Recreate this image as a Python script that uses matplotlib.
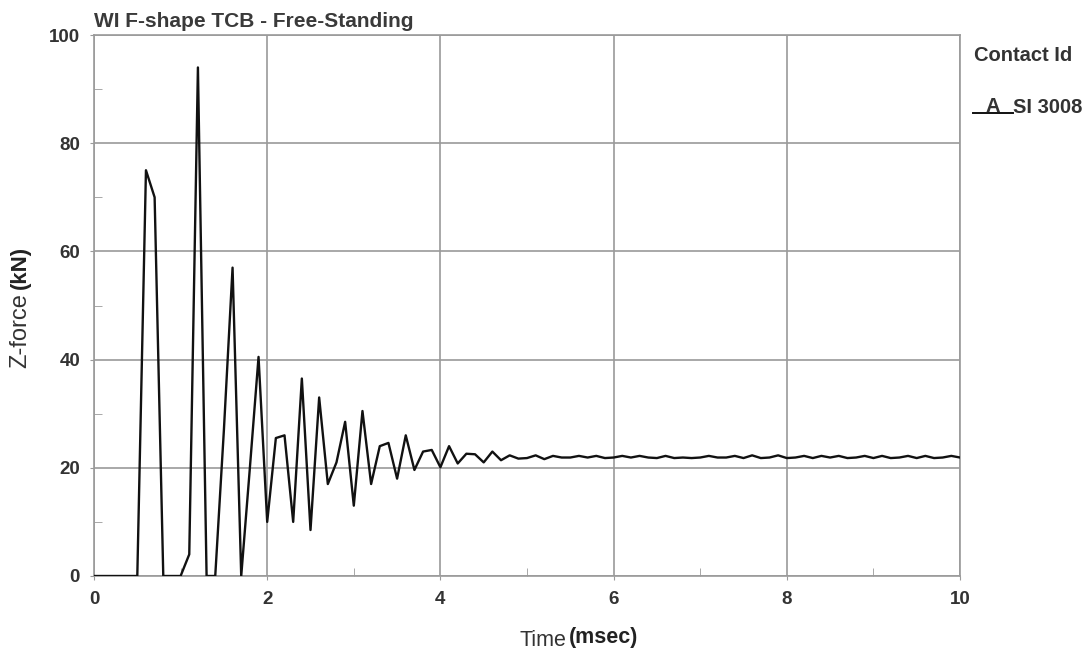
import matplotlib.pyplot as plt
from matplotlib.lines import Line2D

plt.rcParams['font.family'] = ['Liberation Sans', 'DejaVu Sans']

# time samples (msec)
time = [0.0, 0.1, 0.2, 0.3, 0.4, 0.5, 0.6, 0.7, 0.8, 0.9,
        1.0, 1.1, 1.2, 1.3, 1.4, 1.5, 1.6, 1.7, 1.8, 1.9,
        2.0, 2.1, 2.2, 2.3, 2.4, 2.5, 2.6, 2.7, 2.8, 2.9,
        3.0, 3.1, 3.2, 3.3, 3.4, 3.5, 3.6, 3.7, 3.8, 3.9,
        4.0, 4.1, 4.2, 4.3, 4.4, 4.5, 4.6, 4.7, 4.8, 4.9,
        5.0, 5.1, 5.2, 5.3, 5.4, 5.5, 5.6, 5.7, 5.8, 5.9,
        6.0, 6.1, 6.2, 6.3, 6.4, 6.5, 6.6, 6.7, 6.8, 6.9,
        7.0, 7.1, 7.2, 7.3, 7.4, 7.5, 7.6, 7.7, 7.8, 7.9,
        8.0, 8.1, 8.2, 8.3, 8.4, 8.5, 8.6, 8.7, 8.8, 8.9,
        9.0, 9.1, 9.2, 9.3, 9.4, 9.5, 9.6, 9.7, 9.8, 9.9,
        10.0]

# Z-force (kN), contact SI 3008
zforce = [0, 0, 0, 0, 0, 0, 75, 70, 0, 0,
          0, 4, 94, 0, 0, 27, 57, 0, 20, 40.5,
          10, 25.5, 26, 10, 36.5, 8.5, 33, 17, 21, 28.5,
          13, 30.5, 17, 24, 24.6, 18, 26, 19.6, 23, 23.3,
          20.1, 24, 20.8, 22.6, 22.5, 21.0, 23, 21.4, 22.3, 21.7,
          21.8, 22.3, 21.6, 22.2, 21.9, 21.9, 22.2, 21.9, 22.2, 21.8,
          21.9, 22.2, 21.9, 22.2, 21.9, 21.8, 22.2, 21.8, 21.9, 21.8,
          21.9, 22.2, 21.9, 21.9, 22.2, 21.8, 22.3, 21.8, 21.9, 22.3,
          21.8, 21.9, 22.2, 21.8, 22.2, 21.9, 22.2, 21.8, 21.9, 22.2,
          21.8, 22.2, 21.8, 21.9, 22.2, 21.8, 22.2, 21.8, 21.9, 22.2,
          21.9]

xticks = [0, 2, 4, 6, 8, 10]
xminor = [1, 3, 5, 7, 9]
yticks = [0, 20, 40, 60, 80, 100]
yminor = [10, 30, 50, 70, 90]

W, H = 1088, 651
fig = plt.figure(figsize=(W / 100, H / 100), dpi=100)
ax = fig.add_axes([94 / W, 1 - 576 / H, 866 / W, 541 / H])

ax.plot(time, zforce, color='#111111', lw=1.7, zorder=3)

ax.set_xlim(0, 10)
ax.set_ylim(0, 100)
ax.set_xticks(xticks)
ax.set_xticks(xminor, minor=True)
ax.set_yticks(yticks)
ax.set_yticks(yminor, minor=True)
ax.grid(True, which='major', color='#9a9a9a', lw=1.2)
ax.set_axisbelow(True)

for s in ax.spines.values():
    s.set_color('#9a9a9a')
    s.set_linewidth(1.2)

ax.tick_params(which='major', length=3, color='#9a9a9a', labelsize=13.5,
               labelcolor='#333333')
ax.tick_params(axis='x', which='major', pad=8)
ax.tick_params(axis='y', which='major', pad=7)
ax.tick_params(which='minor', direction='in', length=6, color='#9a9a9a')
for lbl in ax.get_xticklabels() + ax.get_yticklabels():
    lbl.set_fontweight('bold')

ax.set_title('WI F-shape TCB - Free-Standing', loc='left', fontsize=15,
             fontweight='bold', color='#3a3a3a', pad=6)

# axis labels with mixed weights
fig.text(566 / W, 1 - 646 / H, 'Time', ha='right', va='baseline',
         fontsize=15.5, color='#333333')
fig.text(569 / W, 1 - 643 / H, '(msec)', ha='left', va='baseline',
         fontsize=15.5, fontweight='bold', color='#222222')

zlab = fig.text(20 / W, 1 - 368 / H, 'Z-force', rotation=90, ha='center',
                va='bottom', fontsize=17, color='#333333')
fig.canvas.draw()
top = zlab.get_window_extent().y1
fig.text(20 / W, (top + 4) / H, '(kN)', rotation=90, ha='center',
         va='bottom', fontsize=16, fontweight='bold', color='#222222')

# legend block
fig.text(974 / W, 1 - 61 / H, 'Contact Id', ha='left', va='baseline',
         fontsize=14.5, fontweight='bold', color='#333333')
fig.text(993 / W, 1 - 112 / H, 'A', ha='center', va='baseline',
         fontsize=14.5, fontweight='bold', color='#333333')
fig.text(1013 / W, 1 - 113 / H, 'SI 3008', ha='left', va='baseline',
         fontsize=14.5, fontweight='bold', color='#333333')
fig.add_artist(Line2D([973 / W, 1013 / W], [1 - 113 / H, 1 - 113 / H],
                      color='#111111', lw=1.4))

fig.savefig('out.png', dpi=100, facecolor='white')
